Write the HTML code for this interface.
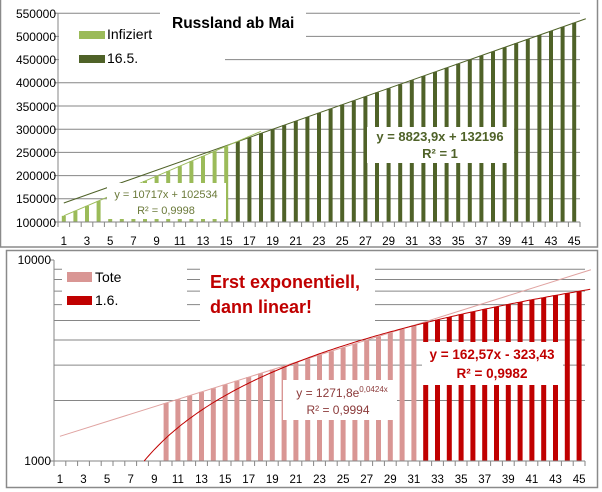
<!DOCTYPE html>
<html><head><meta charset="utf-8"><style>
html,body{margin:0;padding:0;background:#fff;}
svg{display:block;font-family:"Liberation Sans",sans-serif;}
</style></head><body>
<svg id="s" width="602" height="492" xmlns="http://www.w3.org/2000/svg">
<rect x="0" y="0" width="602" height="492" fill="#fff"/>
<rect x="0.5" y="-1" width="597" height="248" fill="#fff" stroke="#8a8a8a" stroke-width="1.5"/>
<rect x="6.5" y="250.5" width="591" height="237" fill="#fff" stroke="#8a8a8a" stroke-width="1.5"/>
<g id="top"></g>
<g id="bot"></g>
<g id="over">
<!-- top boxes -->
<rect x="59" y="15" width="101" height="58" fill="#fff"/>
<rect x="160" y="4" width="146" height="44" fill="#fff"/>
<rect x="59" y="38" width="166" height="35" fill="#fff"/>
<text x="172" y="28" font-size="15.5" font-weight="bold" fill="#000">Russland ab Mai</text>
<rect x="79" y="31" width="26" height="8" fill="#9bbb59"/>
<text x="107" y="39" font-size="14" fill="#000">Infiziert</text>
<rect x="79" y="55" width="26" height="8" fill="#4f6228"/>
<text x="107" y="63" font-size="14" fill="#000">16.5.</text>
<rect x="107" y="183" width="119" height="36" fill="#fff"/>
<text x="166" y="198" font-size="11" fill="#6b7a3a" text-anchor="middle">y = 10717x + 102534</text>
<text x="166" y="214" font-size="11" fill="#6b7a3a" text-anchor="middle">R² = 0,9998</text>
<rect x="367" y="127" width="147" height="36" fill="#fff"/>
<text x="440" y="141" font-size="13" font-weight="bold" fill="#4f6228" text-anchor="middle">y = 8823,9x + 132196</text>
<text x="440" y="158" font-size="13" font-weight="bold" fill="#4f6228" text-anchor="middle">R² = 1</text>
<!-- bottom boxes -->
<rect x="62" y="262" width="125" height="50" fill="#fff"/>
<rect x="200" y="256" width="175" height="77" fill="#fff"/>
<rect x="67" y="272" width="25" height="10" fill="#d99694"/>
<text x="95" y="282" font-size="14" fill="#000">Tote</text>
<rect x="67" y="296" width="25" height="9" fill="#c00000"/>
<text x="95" y="305" font-size="14" fill="#000">1.6.</text>
<text x="210" y="288" font-size="18" font-weight="bold" fill="#c00000">Erst exponentiell,</text>
<text x="210" y="313" font-size="18" font-weight="bold" fill="#c00000">dann linear!</text>
<rect x="283" y="380" width="114" height="40" fill="#fff"/>
<text x="342" y="397" font-size="12" fill="#8b3a3a" text-anchor="middle">y = 1271,8e<tspan font-size="8" dy="-5">0,0424x</tspan></text>
<text x="338" y="414" font-size="12" fill="#8b3a3a" text-anchor="middle">R² = 0,9994</text>
<rect x="422" y="342" width="141" height="43" fill="#fff"/>
<text x="492" y="359" font-size="13.5" font-weight="bold" fill="#c00000" text-anchor="middle">y = 162,57x - 323,43</text>
<text x="492" y="378" font-size="13.5" font-weight="bold" fill="#c00000" text-anchor="middle">R² = 0,9982</text>
</g>
<g font-size="12" fill="#000" text-anchor="end">
<text x="56" y="18">550000</text><text x="56" y="41">500000</text><text x="56" y="64">450000</text>
<text x="56" y="87">400000</text><text x="56" y="111">350000</text><text x="56" y="134">300000</text>
<text x="56" y="157">250000</text><text x="56" y="180">200000</text><text x="56" y="203">150000</text>
<text x="56" y="227">100000</text>
<text x="51" y="264">10000</text><text x="51" y="465">1000</text>
</g>
<g font-size="11.5" fill="#000" text-anchor="middle">
<text x="63.8" y="245">1</text><text x="87" y="245">3</text><text x="110.2" y="245">5</text><text x="133.4" y="245">7</text><text x="156.6" y="245">9</text><text x="179.8" y="245">11</text><text x="203" y="245">13</text><text x="226.2" y="245">15</text><text x="249.4" y="245">17</text><text x="272.6" y="245">19</text><text x="295.8" y="245">21</text><text x="319" y="245">23</text><text x="342.2" y="245">25</text><text x="365.4" y="245">27</text><text x="388.6" y="245">29</text><text x="411.8" y="245">31</text><text x="435" y="245">33</text><text x="458.2" y="245">35</text><text x="481.4" y="245">37</text><text x="504.6" y="245">39</text><text x="527.8" y="245">41</text><text x="551" y="245">43</text><text x="574.2" y="245">45</text>
<text x="59.9" y="483">1</text><text x="83.5" y="483">3</text><text x="107.1" y="483">5</text><text x="130.7" y="483">7</text><text x="154.3" y="483">9</text><text x="177.9" y="483">11</text><text x="201.5" y="483">13</text><text x="225.1" y="483">15</text><text x="248.7" y="483">17</text><text x="272.3" y="483">19</text><text x="295.9" y="483">21</text><text x="319.5" y="483">23</text><text x="343.1" y="483">25</text><text x="366.7" y="483">27</text><text x="390.3" y="483">29</text><text x="413.9" y="483">31</text><text x="437.5" y="483">33</text><text x="461.1" y="483">35</text><text x="484.7" y="483">37</text><text x="508.3" y="483">39</text><text x="531.9" y="483">41</text><text x="555.5" y="483">43</text><text x="579.1" y="483">45</text>
</g>
<script>
(function(){
var NS="http://www.w3.org/2000/svg";
function el(g,t,a){var e=document.createElementNS(NS,t);for(var k in a)e.setAttribute(k,a[k]);g.appendChild(e);return e;}
var T=document.getElementById('top'),B=document.getElementById('bot');
// top
var L=58,W=11.6,R=L+45*W;
function ty(v){return 222-(v-100000)/50000*23.2;}
for(var i=1;i<=9;i++){var y=ty(100000+i*50000);el(T,'line',{x1:L,x2:R,y1:y,y2:y,stroke:'#868686','stroke-width':1});}
for(var n=1;n<=45;n++){var v=n<=15?10717*n+102534:8823.9*n+132196;var cx=L+(n-0.5)*W;var y=ty(v);
el(T,'rect',{x:cx-2,y:y,width:4,height:222-y,fill:n<=15?'#9bbb59':'#4f6228'});}
el(T,'line',{x1:L,x2:L,y1:13,y2:222,stroke:'#868686'});
el(T,'line',{x1:L,x2:R,y1:222,y2:222,stroke:'#868686'});
for(var n=0;n<=45;n++){var x=L+n*W;el(T,'line',{x1:x,x2:x,y1:222,y2:227,stroke:'#868686'});}
for(var i=0;i<=9;i++){var y=ty(100000+i*50000);el(T,'line',{x1:L-4,x2:L,y1:y,y2:y,stroke:'#868686'});}
el(T,'line',{x1:L+0.5*W,y1:ty(8823.9+132196),x2:L+45.5*W,y2:ty(8823.9*46+132196),stroke:'#4f6228','stroke-width':1});
el(T,'line',{x1:L+0.5*W,y1:ty(10717+102534),x2:L+17.5*W,y2:ty(10717*18+102534),stroke:'#9bbb59','stroke-width':1});
// bottom
var L2=54,W2=11.8,R2=L2+45*W2;
function by(v){return 461-201*Math.log10(v/1000);}
for(var k=2;k<=9;k++){var y=by(k*1000);el(B,'line',{x1:L2,x2:R2,y1:y,y2:y,stroke:'#868686'});}
for(var n=10;n<=45;n++){var v=n<=31?1271.8*Math.exp(0.0424*n):162.57*n-323.43;var cx=L2+(n-0.5)*W2;var y=by(v);
el(B,'rect',{x:cx-2.5,y:y,width:5,height:461-y,fill:n<=31?'#d99694':'#c00000'});}
el(B,'line',{x1:L2,x2:L2,y1:260,y2:461,stroke:'#868686'});
el(B,'line',{x1:L2,x2:R2,y1:461,y2:461,stroke:'#868686'});
el(B,'line',{x1:L2-4,x2:L2,y1:260,y2:260,stroke:'#868686'});
el(B,'line',{x1:L2-4,x2:L2,y1:461,y2:461,stroke:'#868686'});
for(var n=0;n<=45;n++){var x=L2+n*W2;el(B,'line',{x1:x,x2:x,y1:461,y2:466,stroke:'#868686'});}
el(B,'line',{x1:L2+0.5*W2,y1:by(1271.8*Math.exp(0.0424)),x2:L2+45.5*W2,y2:by(1271.8*Math.exp(0.0424*46)),stroke:'#e0a3a1','stroke-width':1});
var pts=[];for(var t=8.14;t<=46.01;t+=0.2){pts.push((L2+(t-0.5)*W2).toFixed(1)+','+by(162.57*t-323.43).toFixed(1));}
el(B,'polyline',{points:pts.join(' '),fill:'none',stroke:'#c00000','stroke-width':1});
})();
</script>
</svg>
</body></html>
